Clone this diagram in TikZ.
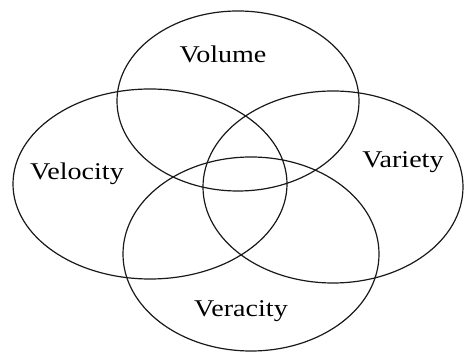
\documentclass[tikz,border=0pt]{standalone}
\usepackage{fontspec}
\setmainfont{Liberation Serif}
\usepackage{tikz}
\usetikzlibrary{positioning, calc}

\newcommand{\wide}[1]{\scalebox{1.17}[1]{#1}}

\begin{document}
\begin{tikzpicture}[
    x=1pt, y=-1pt,
    every node/.style={font=\fontsize{24}{28}\selectfont},
    vset/.style={draw=black!90, line width=1.2pt},
    lbl/.style={inner sep=0pt},
]
    \useasboundingbox (0,0) rectangle (464,352);

    % four overlapping sets
    \draw[vset] (238,101) ellipse [x radius=121, y radius=90];
    \draw[vset] (150,184) ellipse [x radius=137, y radius=95];
    \draw[vset] (333,187) ellipse [x radius=130, y radius=96];
    \draw[vset] (251,254) ellipse [x radius=128, y radius=97];

    \node[lbl] (volume)   at (223,54)  {\wide{Volume}};
    \node[lbl] (velocity) at (77,174)  {\wide{Velocity}};
    \node[lbl] (variety)  at (403,162) {\wide{Variety}};
    \node[lbl] (veracity) at (241,311) {\wide{Veracity}};
\end{tikzpicture}
\end{document}
